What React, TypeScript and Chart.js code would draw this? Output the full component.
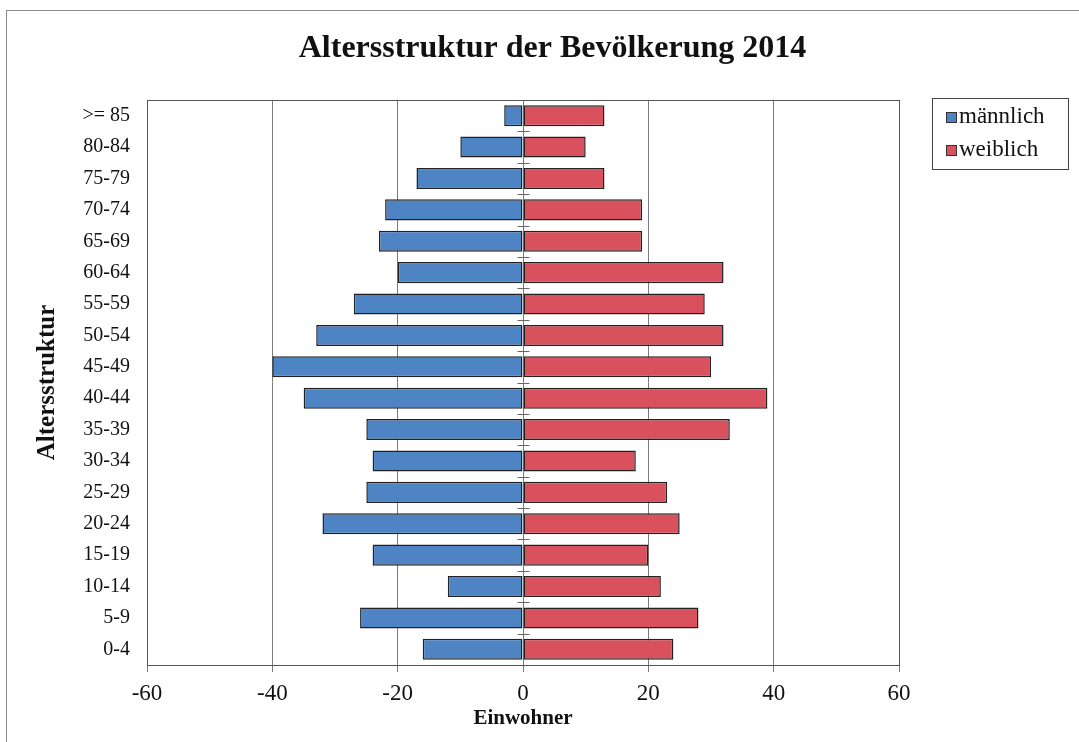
import React, { useEffect, useRef } from "react";
import { Chart, registerables } from "chart.js";

Chart.register(...registerables);

const categories = [">= 85", "80-84", "75-79", "70-74", "65-69", "60-64", "55-59", "50-54", "45-49", "40-44", "35-39", "30-34", "25-29", "20-24", "15-19", "10-14", "5-9", "0-4"];
const maleValues = [-3, -10, -17, -22, -23, -20, -27, -33, -40, -35, -25, -24, -25, -32, -24, -12, -26, -16];
const femaleValues = [13, 10, 13, 19, 19, 32, 29, 32, 30, 39, 33, 18, 23, 25, 20, 22, 28, 24];
const seriesLabels = ["männlich", "weiblich"];
const seriesColors = ["#4F84C4", "#D8515C"];
const xMin = -60;
const xMax = 60;
const xStep = 20;
const titleText = "Altersstruktur der Bevölkerung 2014";
const xTitle = "Einwohner";
const yTitle = "Altersstruktur";

const FONT = "'Liberation Serif', 'Times New Roman', serif";

const decorPlugin = {
  id: "decor",
  beforeDraw(chart: any) {
    const ctx = chart.ctx;
    ctx.save();
    ctx.fillStyle = "#ffffff";
    ctx.fillRect(0, 0, chart.width, chart.height);
    ctx.strokeStyle = "#8a8a8a";
    ctx.lineWidth = 1;
    ctx.strokeRect(6.5, 10.5, 1200, 1000);
    ctx.restore();
  },
  afterDatasetsDraw(chart: any) {
    const ctx = chart.ctx;
    const area = chart.chartArea;
    const xs = chart.scales.x;
    const ys = chart.scales.y;
    ctx.save();
    // plot frame
    ctx.strokeStyle = "#555555";
    ctx.lineWidth = 1;
    ctx.strokeRect(Math.round(area.left) + 0.5, Math.round(area.top) + 0.5, Math.round(area.right - area.left), Math.round(area.bottom - area.top));
    // cross tick marks on the zero axis between categories
    const x0 = Math.round(xs.getPixelForValue(0)) + 0.5;
    const n = categories.length;
    ctx.strokeStyle = "#666666";
    for (let i = 1; i < n; i++) {
      const yy = Math.round((ys.getPixelForValue(i - 1) + ys.getPixelForValue(i)) / 2) + 0.5;
      ctx.beginPath();
      ctx.moveTo(x0 - 6, yy);
      ctx.lineTo(x0 + 6, yy);
      ctx.stroke();
    }
    // legend
    const lx = 932, ly = 98, lw = 136, lh = 71;
    ctx.strokeStyle = "#444444";
    ctx.strokeRect(lx + 0.5, ly + 0.5, lw, lh);
    ctx.font = `23px ${FONT}`;
    ctx.textBaseline = "middle";
    ctx.textAlign = "left";
    chart.data.datasets.forEach((ds: any, i: number) => {
      const cy = ly + 19 + i * 33;
      ctx.fillStyle = ds.backgroundColor;
      ctx.fillRect(lx + 14, cy - 5, 11, 11);
      ctx.strokeStyle = "#333333";
      ctx.strokeRect(lx + 14.5, cy - 4.5, 10, 10);
      ctx.fillStyle = "#111111";
      ctx.fillText(ds.label, lx + 27, cy);
    });
    ctx.restore();
  },
};

export default function App() {
  const ref = useRef<HTMLCanvasElement>(null);
  useEffect(() => {
    if (!ref.current) return;
    const chart = new Chart(ref.current, {
      type: "bar",
      data: {
        labels: categories,
        datasets: [
          {
            label: seriesLabels[0],
            data: maleValues,
            backgroundColor: seriesColors[0],
            borderColor: "#222222",
            borderWidth: 1.5,
            borderSkipped: false,
            barPercentage: 0.67,
            categoryPercentage: 1,
          },
          {
            label: seriesLabels[1],
            data: femaleValues,
            backgroundColor: seriesColors[1],
            borderColor: "#222222",
            borderWidth: 1.5,
            borderSkipped: false,
            barPercentage: 0.67,
            categoryPercentage: 1,
          },
        ],
      },
      options: {
        indexAxis: "y",
        responsive: false,
        animation: false,
        devicePixelRatio: 1,
        layout: { padding: { left: 26, right: 0, top: 0, bottom: 0 } },
        plugins: {
          legend: { display: false },
          tooltip: { enabled: false },
          title: {
            display: true,
            text: titleText,
            color: "#111111",
            font: { family: FONT, size: 32, weight: "bold" },
            padding: { top: 30, bottom: 31.6 },
          },
        },
        scales: {
          x: {
            type: "linear",
            stacked: true,
            min: xMin,
            max: xMax,
            ticks: {
              stepSize: xStep,
              color: "#111111",
              font: { family: FONT, size: 23 },
              padding: 8,
            },
            grid: {
              color: "#7a7a7a",
              lineWidth: 1,
              drawTicks: true,
              tickLength: 7,
              tickColor: "#7a7a7a",
            },
            border: { display: true, color: "#555555" },
            title: {
              display: true,
              text: xTitle,
              color: "#111111",
              font: { family: FONT, size: 21, weight: "bold" },
              padding: { top: 0, bottom: 11 },
            },
            afterFit(scale: any) {
              scale.height = 77;
            },
          },
          y: {
            type: "category",
            stacked: true,
            ticks: {
              color: "#111111",
              font: { family: FONT, size: 20 },
              padding: 17,
            },
            grid: { display: false, drawTicks: false },
            border: { display: true, color: "#555555" },
            title: {
              display: true,
              text: yTitle,
              color: "#111111",
              font: { family: FONT, size: 25, weight: "bold" },
              padding: { top: 7, bottom: 0 },
            },
            afterFit(scale: any) {
              scale.width = 121;
            },
          },
          yRight: {
            type: "linear",
            position: "right",
            display: true,
            ticks: { display: false },
            grid: { display: false, drawTicks: false },
            border: { display: false },
            afterFit(scale: any) {
              scale.width = 180;
            },
          },
        },
      },
      plugins: [decorPlugin],
    } as any);
    return () => chart.destroy();
  }, []);
  return (
    <div style={{ position: "absolute", left: 0, top: 0, width: 1079, height: 742, background: "#fff" }}>
      <canvas ref={ref} width={1079} height={742} />
    </div>
  );
}
